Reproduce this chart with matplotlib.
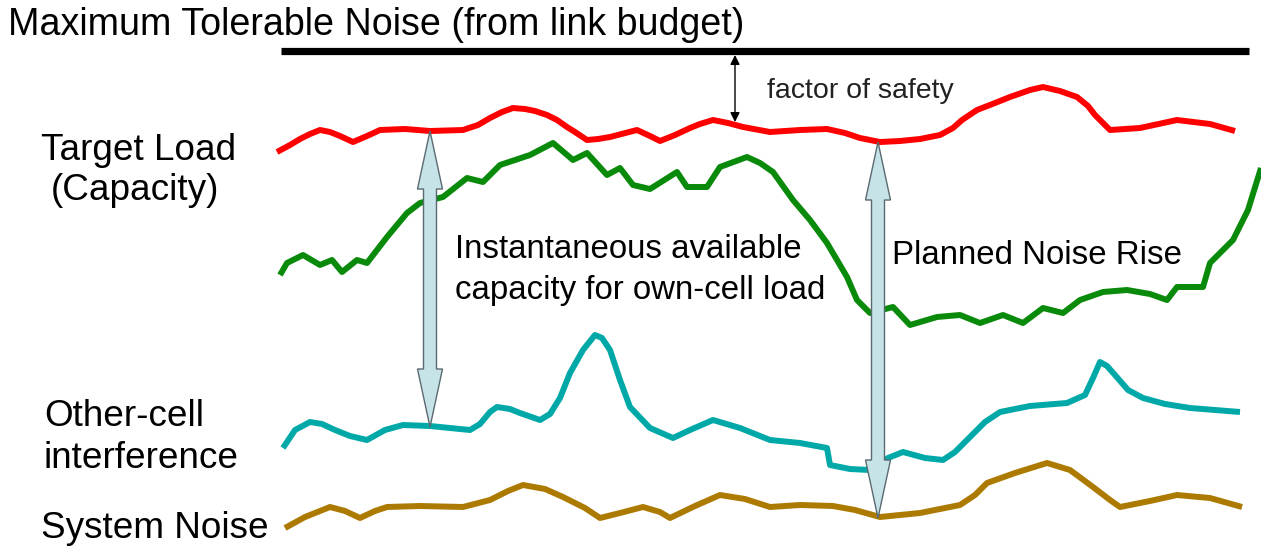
import matplotlib.pyplot as plt
from matplotlib.patches import Polygon

plt.rcParams['font.family'] = ['Liberation Sans', 'DejaVu Sans']

# curve samples in picture coordinates (x to the right, y downwards)
red_x = [277, 290, 300, 310, 320, 330, 340, 353, 367, 380, 405, 430, 463, 478, 490, 502, 513,
         525, 535, 547, 557, 567, 575, 587, 598, 610, 637, 650, 660, 675, 690, 700, 713, 728,
         743, 770, 800, 827, 845, 860, 880, 900, 920, 940, 953, 962, 977, 995, 1010, 1030,
         1043, 1060, 1077, 1088, 1095, 1110, 1140, 1177, 1210, 1235]
red_y = [152, 145, 139, 134, 130, 132, 136, 142, 136, 130, 129, 131, 130, 125, 118, 112, 108,
         109, 111, 115, 120, 127, 132, 140, 139, 137, 130, 136, 141, 135, 128, 124, 120, 123,
         127, 132, 130, 129, 133, 138, 142, 141, 139, 135, 128, 120, 110, 103, 97, 90,
         87, 91, 97, 106, 115, 130, 128, 120, 124, 131]

green_x = [280, 287, 303, 320, 332, 342, 357, 367, 387, 407, 420, 443, 467, 483, 500, 530, 553,
           573, 587, 607, 620, 633, 650, 677, 687, 707, 720, 747, 760, 773, 793, 810, 827, 847,
           857, 870, 893, 910, 937, 960, 980, 1003, 1023, 1043, 1063, 1080, 1103, 1127, 1150,
           1167, 1177, 1203, 1210, 1233, 1248, 1261]
green_y = [275, 263, 255, 265, 260, 272, 260, 263, 237, 213, 203, 197, 178, 182, 165, 155, 143,
           160, 153, 175, 168, 185, 189, 172, 187, 187, 167, 157, 163, 172, 200, 220, 243, 277,
           300, 313, 307, 325, 317, 315, 323, 315, 323, 308, 313, 300, 292, 290, 294, 300, 287,
           287, 263, 240, 210, 168]

cyan_x = [283, 295, 310, 322, 335, 350, 367, 385, 403, 430, 470, 480, 490, 497, 510, 520, 540,
          550, 560, 570, 583, 595, 602, 610, 620, 630, 650, 673, 690, 713, 740, 770, 800, 827,
          830, 850, 870, 888, 903, 925, 943, 955, 970, 985, 1000, 1030, 1067, 1085, 1093, 1100,
          1107, 1115, 1128, 1143, 1165, 1190, 1240]
cyan_y = [448, 430, 422, 424, 430, 436, 440, 430, 425, 426, 430, 424, 412, 407, 409, 413, 420,
          414, 398, 373, 350, 335, 338, 350, 380, 407, 428, 438, 430, 420, 428, 440, 443, 448,
          465, 469, 470, 458, 452, 458, 460, 452, 437, 422, 412, 406, 403, 395, 378, 362,
          366, 375, 390, 398, 404, 408, 412]

brown_x = [285, 305, 330, 345, 360, 375, 387, 420, 463, 490, 508, 523, 545, 563, 585, 600, 620,
           643, 660, 670, 695, 720, 745, 770, 800, 833, 855, 880, 920, 960, 975, 987, 1015, 1047,
           1070, 1093, 1110, 1120, 1150, 1177, 1210, 1242]
brown_y = [528, 517, 507, 511, 518, 511, 507, 506, 507, 500, 491, 485, 489, 497, 508, 518, 513,
           507, 512, 518, 506, 495, 499, 507, 505, 506, 510, 517, 513, 505, 495, 483, 473, 463,
           470, 487, 500, 507, 501, 495, 498, 507]

# planned quantities marked with the big arrows: (x, top, bottom)
capacity_arrow = (430, 131, 427)
noise_rise_arrow = (878, 142, 518)


def DrawDoubleArrow(ax, x, yTop, yBottom, shaft=13, headW=25, headL=58):
    s, h = shaft / 2, headW / 2
    pts = [(x, yTop), (x + h, yTop + headL), (x + s, yTop + headL),
           (x + s, yBottom - headL), (x + h, yBottom - headL), (x, yBottom),
           (x - h, yBottom - headL), (x - s, yBottom - headL), (x - s, yTop + headL),
           (x - h, yTop + headL)]
    ax.add_patch(Polygon(pts, closed=True, facecolor='#c6e3e8', edgecolor='#5a6a70',
                         linewidth=1.0, zorder=5))


fig = plt.figure(figsize=(12.61, 5.47), dpi=100)
ax = fig.add_axes([0, 0, 1, 1])
ax.set_xlim(0, 1261)
ax.set_ylim(547, 0)
ax.axis('off')

lw = 4.3
for xs, ys, col in [(red_x, red_y, '#ff0000'), (green_x, green_y, '#0a8a0a'),
                    (cyan_x, cyan_y, '#00a8a8'), (brown_x, brown_y, '#ad7a00')]:
    ax.plot(xs, ys, color=col, lw=lw, solid_joinstyle='round', solid_capstyle='butt')

# maximum tolerable noise level
ax.plot([281, 1249], [51, 51], color='black', lw=5.2, solid_capstyle='butt')

DrawDoubleArrow(ax, *capacity_arrow)
DrawDoubleArrow(ax, *noise_rise_arrow)

ax.annotate('', xy=(735, 55), xytext=(735, 122),
            arrowprops=dict(arrowstyle='<|-|>', color='black', lw=1.0,
                            mutation_scale=14, shrinkA=0, shrinkB=0))

big = 26.6
mid = 23.8
ax.text(8, 25, 'Maximum Tolerable Noise (from link budget)', fontsize=27.1, va='center', ha='left')
ax.text(41, 150, 'Target Load', fontsize=big, va='center')
ax.text(51, 191, '(Capacity)', fontsize=big, va='center')
ax.text(44, 416, 'Other-cell', fontsize=big, va='center')
ax.text(44, 459, 'interference', fontsize=big, va='center')
ax.text(41, 528, 'System Noise', fontsize=big, va='center')
ax.text(767, 91, 'factor of safety', fontsize=20.5, va='center', color='#222222')
ax.text(455, 249, 'Instantaneous available', fontsize=mid, va='center')
ax.text(455, 291, 'capacity for own-cell load', fontsize=mid, va='center')
ax.text(892, 256, 'Planned Noise Rise', fontsize=mid, va='center')

fig.savefig('out.png', dpi=100, facecolor='white')
